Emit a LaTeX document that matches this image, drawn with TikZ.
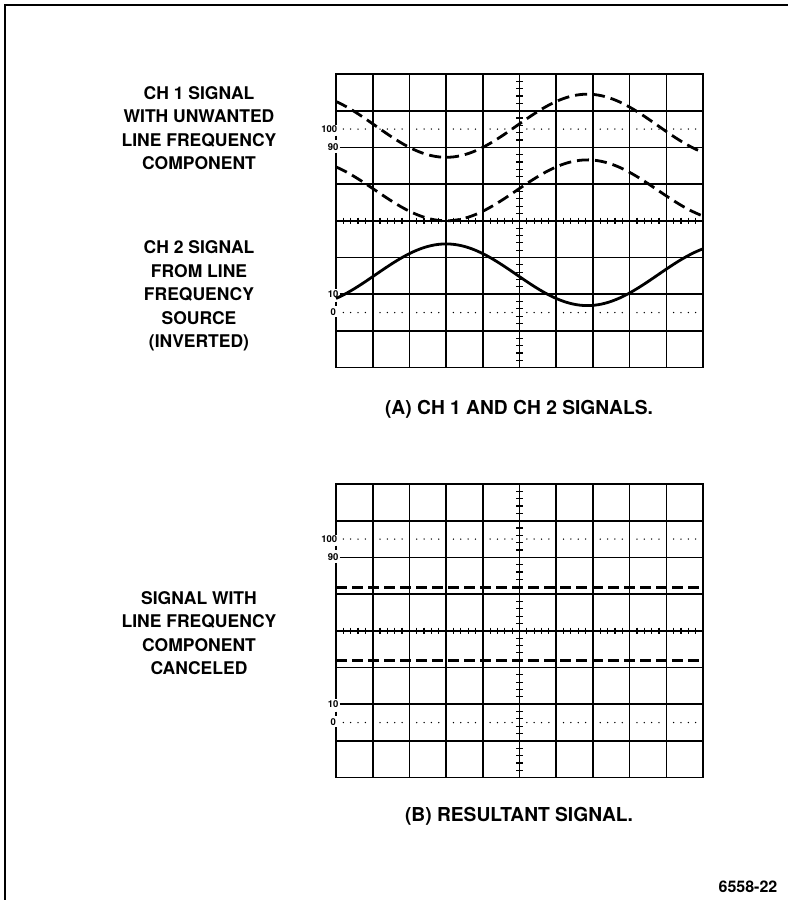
\documentclass[tikz,border=0pt]{standalone}
\usepackage{fontspec}
\setmainfont{TeX Gyre Heros}
\newcommand\gratdraw[1]{%
  \draw[gline] (0,1.4) -- (0,0) -- (10,0) -- (10,8) -- (0,8) -- (0,6.62);
  \draw[gline] (0,1.68) -- (0,1.8);
  \draw[gline] (0,2.15) -- (0,5.85);
  \draw[gline] (0,6.2) -- (0,6.33);
  \foreach \i in {1,...,9} {\draw[gline] (\i,0) -- (\i,8);}
  \foreach \j in {1,3,4,5,7} {\draw[gline] (0,\j) -- (10,\j);}
  \draw[gline] (0.1,2) -- (10,2);
  \draw[gline] (0.1,6) -- (10,6);
  \foreach \k in {1,...,49} {\draw[tickl] ({\k/5},3.91) -- ({\k/5},4.09);}
  \foreach \k in {1,...,39} {\draw[tickl] (4.91,{\k/5}) -- (5.09,{\k/5});}
  \foreach \i in {0,...,9} {\foreach \m in {1,...,4} {%
    \fill ({\i+\m/5},1.5) circle (0.75pt);
    \fill ({\i+\m/5},6.5) circle (0.75pt);}}
  \node[tinylbl] (#1l100) at (0.04,1.5) {100};
  \node[tinylbl] (#1l90) at (0.07,2) {90};
  \node[tinylbl] (#1l10) at (0.07,6) {10};
  \node[tinylbl] (#1l0) at (0.0,6.5) {0};
}
\begin{document}
\begin{tikzpicture}[x=1pt,y=-1pt,
  sidelbl/.style={font=\fontsize{17.5}{23.5}\selectfont\bfseries, align=center, inner sep=0pt},
  captxt/.style={font=\fontsize{19.2}{22}\selectfont\bfseries, inner sep=0pt},
  tinylbl/.style={font=\fontsize{9.5}{11}\selectfont\bfseries, inner sep=0pt, anchor=east},
  gline/.style={line width=1.6pt},
  tickl/.style={line width=1.2pt},
  trace/.style={line width=2.8pt},
  dtrace/.style={line width=2.8pt, dash pattern=on 12pt off 6pt},
  htrace/.style={line width=3pt, dash pattern=on 11pt off 5pt},
]
\useasboundingbox (0,0) rectangle (788,900);
\draw[line width=2.5pt] (5,900) -- (5,5) -- (788,5);

\begin{scope}[shift={(336pt,-74pt)}, x=36.7pt, y=-36.7pt]
  \gratdraw{a}
  \draw[dtrace] plot[domain=0:10, samples=120] (\x, {1.41+0.86*cos(360*(\x-3)/7.7)});
  \draw[dtrace] plot[domain=0:10, samples=120] (\x, {3.17+0.83*cos(360*(\x-3)/7.7)});
  \draw[trace] plot[domain=0:10, samples=120] (\x, {5.47-0.84*cos(360*(\x-3)/7.7)});
\end{scope}

\begin{scope}[shift={(336pt,-484pt)}, x=36.7pt, y=-36.7pt]
  \gratdraw{b}
  \draw[htrace] (0,2.81) -- (10,2.81);
  \draw[htrace] (0,4.82) -- (10,4.82);
\end{scope}

\node[sidelbl] (t1) at (199,128) {CH 1 SIGNAL\\WITH UNWANTED\\LINE FREQUENCY\\COMPONENT};
\node[sidelbl] (t2) at (199,296) {CH 2 SIGNAL\\FROM LINE\\FREQUENCY\\SOURCE\\(INVERTED)};
\node[sidelbl] (t3) at (199,633) {SIGNAL WITH\\LINE FREQUENCY\\COMPONENT\\CANCELED};
\node[captxt] (ca) at (519,409) {(A) CH 1 AND CH 2 SIGNALS.};
\node[captxt] (cb) at (519,816) {(B) RESULTANT SIGNAL.};
\node[font=\fontsize{16}{18}\selectfont\bfseries, inner sep=0pt] (fig) at (748,887) {6558-22};
\end{tikzpicture}
\end{document}
